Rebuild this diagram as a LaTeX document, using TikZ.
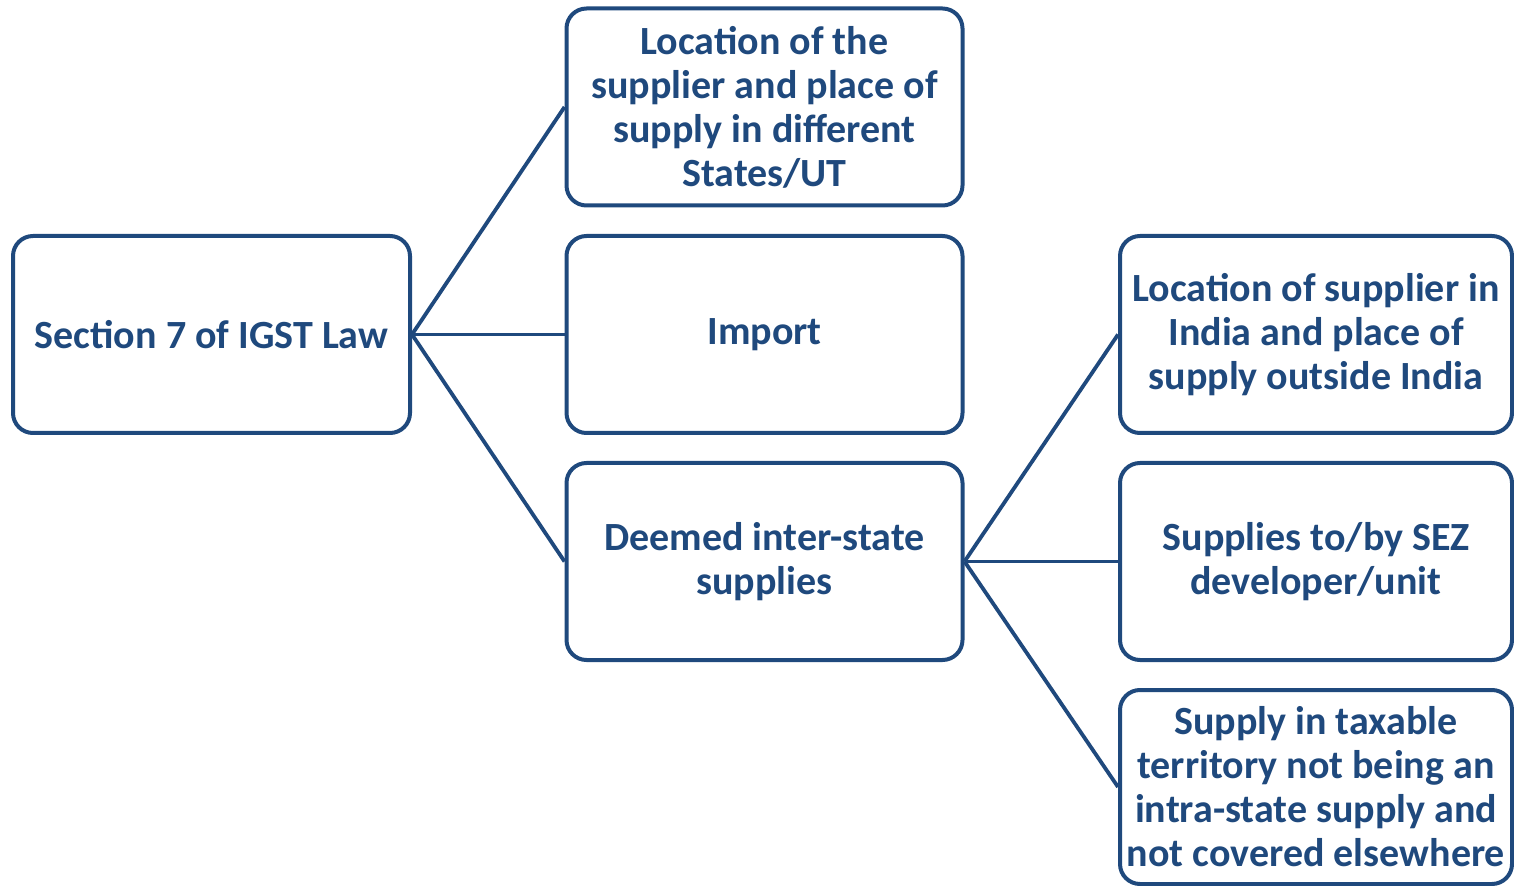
\documentclass[tikz,border=0pt]{standalone}
\usepackage{fontspec}
\setmainfont{Carlito}
\definecolor{navy}{HTML}{1F497D}
\begin{document}
\begin{tikzpicture}[x=0.5pt,y=-0.5pt,
  box/.style={draw=navy, line width=2pt, rounded corners=10pt, fill=white,
    align=center, text=navy, font=\bfseries\fontsize{20}{22}\selectfont,
    inner sep=0pt},
  wide/.style={minimum width=198pt, minimum height=98.5pt},
  link/.style={draw=navy, line width=1.9pt}]
\useasboundingbox (0,0) rectangle (1514,886);
% root and first level
\node[box, minimum width=198.5pt, minimum height=98.5pt] (sec) at (211.5,334.5) {Section 7 of IGST Law};
\node[box, wide] (loc)  at (764.5,107)   {Location of the\\supplier and place of\\supply in different\\States/UT};
\node[box, wide] (imp)  at (764.5,334.5) {Import};
\node[box, wide] (deem) at (764.5,561.5) {Deemed inter-state\\supplies};
% second level
\node[box, minimum width=196pt, minimum height=98.5pt] (exp) at (1316,334.5) {Location of supplier in\\India and place of\\supply outside India};
\node[box, minimum width=196pt, minimum height=98.5pt] (sez) at (1316,561.5) {Supplies to/by SEZ\\developer/unit};
\node[box, minimum width=196pt, minimum height=97pt] (oth) at (1316,787) {Supply in taxable\\territory not being an\\intra-state supply and\\not covered elsewhere};
% connectors
\draw[link] (sec.east) -- (loc.west);
\draw[link] (sec.east) -- (imp.west);
\draw[link] (sec.east) -- (deem.west);
\draw[link] (deem.east) -- (exp.west);
\draw[link] (deem.east) -- (sez.west);
\draw[link] (deem.east) -- (oth.west);
\end{tikzpicture}
\end{document}
